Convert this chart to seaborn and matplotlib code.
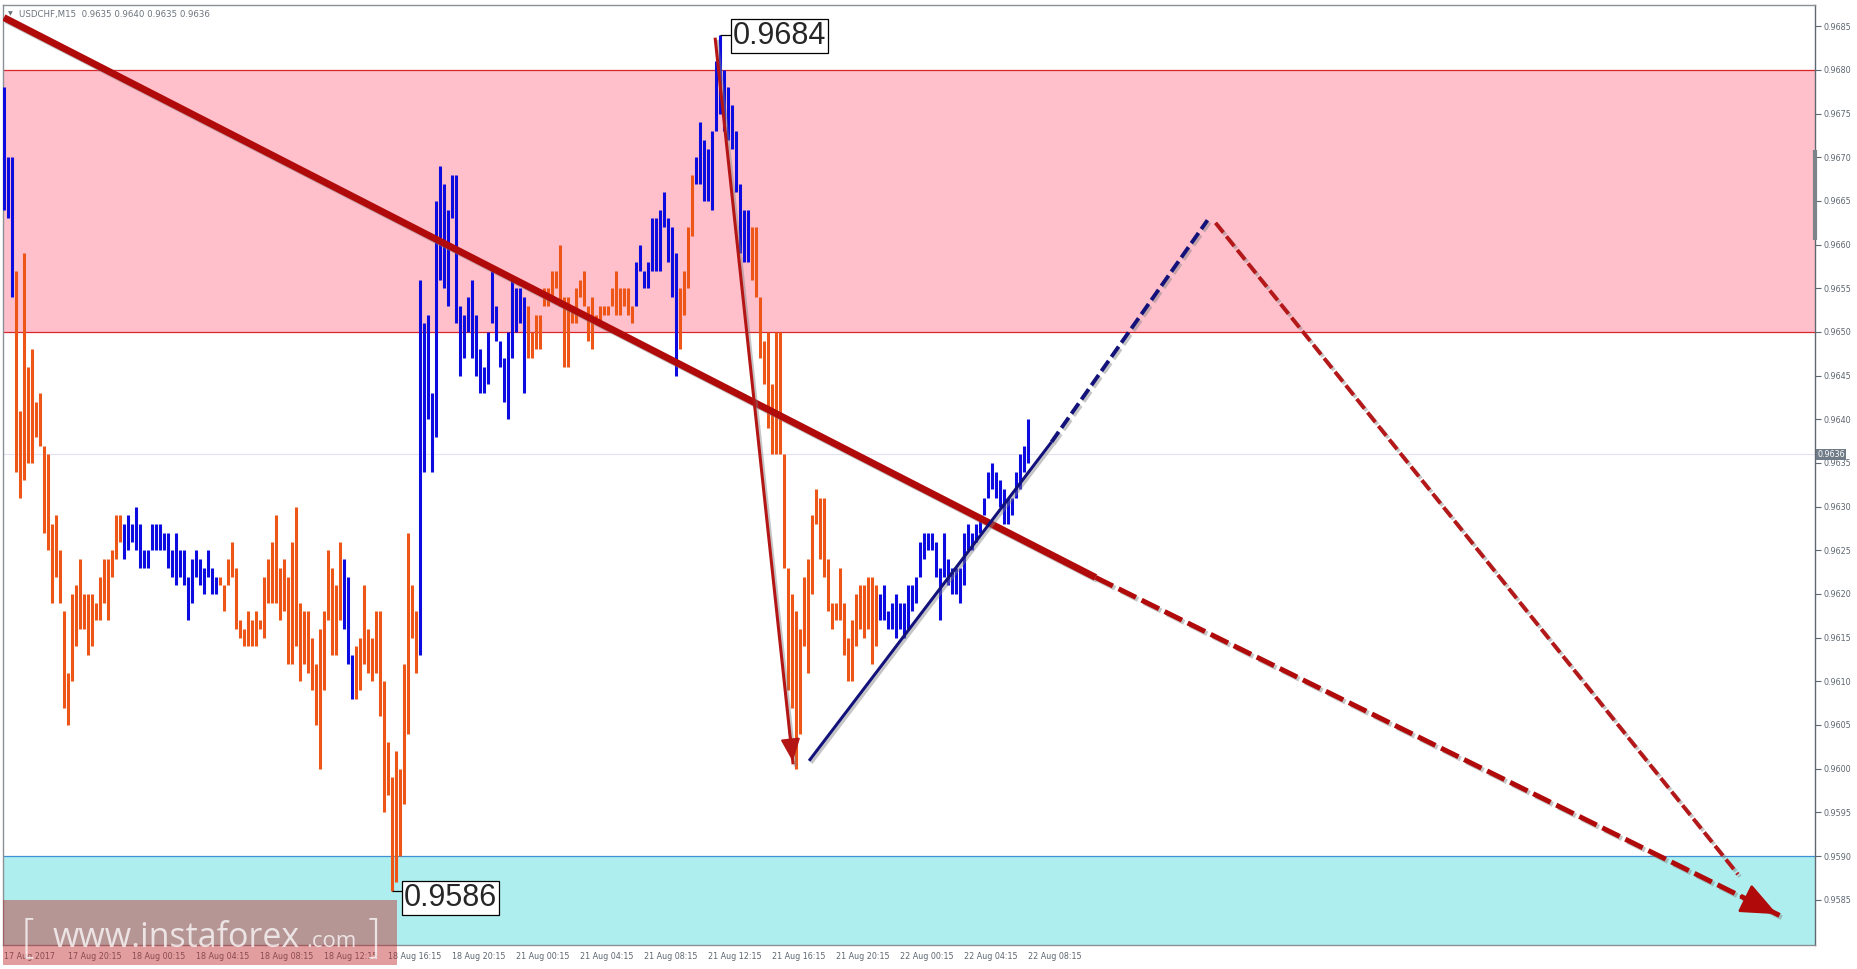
import numpy as np
import pandas as pd
import seaborn as sns
import matplotlib
matplotlib.use('Agg')
import matplotlib.pyplot as plt
import matplotlib.patheffects as pe
import matplotlib.transforms as mtransforms
from matplotlib.patches import Rectangle

# USDCHF M15, 17 Aug 16:15 .. 22 Aug 08:15 (bar index 0..256)
highs = [
    0.9678, 0.9670, 0.9670, 0.9657, 0.9641, 0.9659, 0.9646, 0.9648, 0.9642, 0.9643,
    0.9637, 0.9636, 0.9628, 0.9629, 0.9625, 0.9618, 0.9611, 0.9620, 0.9621, 0.9624,
    0.9620, 0.9620, 0.9620, 0.9619, 0.9622, 0.9624, 0.9624, 0.9625, 0.9629, 0.9629,
    0.9628, 0.9629, 0.9628, 0.9630, 0.9628, 0.9625, 0.9625, 0.9628, 0.9628, 0.9628,
    0.9627, 0.9627, 0.9625, 0.9627, 0.9625, 0.9625, 0.9622, 0.9624, 0.9625, 0.9624,
    0.9623, 0.9625, 0.9623, 0.9622, 0.9622, 0.9621, 0.9624, 0.9626, 0.9623, 0.9617,
    0.9616, 0.9618, 0.9617, 0.9618, 0.9617, 0.9622, 0.9624, 0.9626, 0.9629, 0.9623,
    0.9624, 0.9622, 0.9626, 0.9630, 0.9619, 0.9618, 0.9618, 0.9615, 0.9612, 0.9616,
    0.9618, 0.9625, 0.9623, 0.9621, 0.9626, 0.9624, 0.9622, 0.9613, 0.9614, 0.9615,
    0.9621, 0.9616, 0.9615, 0.9618, 0.9618, 0.9610, 0.9603, 0.9599, 0.9602, 0.9600,
    0.9612, 0.9627, 0.9621, 0.9618, 0.9656, 0.9651, 0.9652, 0.9643, 0.9665, 0.9669,
    0.9667, 0.9664, 0.9668, 0.9668, 0.9653, 0.9652, 0.9654, 0.9656, 0.9652, 0.9648,
    0.9646, 0.9650, 0.9657, 0.9653, 0.9649, 0.9647, 0.9650, 0.9656, 0.9655, 0.9655,
    0.9654, 0.9653, 0.9650, 0.9652, 0.9652, 0.9655, 0.9655, 0.9657, 0.9657, 0.9660,
    0.9654, 0.9654, 0.9653, 0.9655, 0.9656, 0.9657, 0.9653, 0.9654, 0.9652, 0.9653,
    0.9653, 0.9653, 0.9655, 0.9657, 0.9655, 0.9655, 0.9655, 0.9653, 0.9658, 0.9660,
    0.9657, 0.9658, 0.9663, 0.9663, 0.9664, 0.9666, 0.9663, 0.9662, 0.9659, 0.9655,
    0.9657, 0.9662, 0.9668, 0.9670, 0.9674, 0.9672, 0.9671, 0.9673, 0.9681, 0.9684,
    0.9680, 0.9678, 0.9676, 0.9673, 0.9667, 0.9664, 0.9664, 0.9662, 0.9662, 0.9654,
    0.9649, 0.9650, 0.9644, 0.9650, 0.9650, 0.9636, 0.9623, 0.9620, 0.9618, 0.9616,
    0.9622, 0.9624, 0.9629, 0.9632, 0.9631, 0.9631, 0.9624, 0.9619, 0.9619, 0.9623,
    0.9619, 0.9615, 0.9617, 0.9620, 0.9621, 0.9621, 0.9622, 0.9622, 0.9621, 0.9620,
    0.9621, 0.9618, 0.9619, 0.9620, 0.9619, 0.9619, 0.9621, 0.9621, 0.9622, 0.9626,
    0.9627, 0.9627, 0.9627, 0.9626, 0.9623, 0.9627, 0.9624, 0.9623, 0.9623, 0.9623,
    0.9627, 0.9628, 0.9627, 0.9628, 0.9629, 0.9631, 0.9634, 0.9635, 0.9634, 0.9633,
    0.9632, 0.9631, 0.9631, 0.9634, 0.9636, 0.9637, 0.9640,
]
lows = [
    0.9664, 0.9663, 0.9654, 0.9634, 0.9631, 0.9633, 0.9635, 0.9635, 0.9638, 0.9637,
    0.9627, 0.9625, 0.9619, 0.9622, 0.9619, 0.9607, 0.9605, 0.9610, 0.9614, 0.9616,
    0.9616, 0.9613, 0.9614, 0.9617, 0.9617, 0.9619, 0.9617, 0.9622, 0.9624, 0.9626,
    0.9624, 0.9625, 0.9626, 0.9625, 0.9623, 0.9623, 0.9623, 0.9625, 0.9625, 0.9625,
    0.9625, 0.9623, 0.9622, 0.9621, 0.9622, 0.9621, 0.9617, 0.9619, 0.9622, 0.9621,
    0.9620, 0.9622, 0.9620, 0.9620, 0.9621, 0.9618, 0.9621, 0.9622, 0.9616, 0.9615,
    0.9614, 0.9614, 0.9614, 0.9614, 0.9616, 0.9615, 0.9619, 0.9619, 0.9619, 0.9617,
    0.9618, 0.9612, 0.9612, 0.9614, 0.9610, 0.9612, 0.9611, 0.9609, 0.9605, 0.9600,
    0.9609, 0.9617, 0.9613, 0.9613, 0.9617, 0.9616, 0.9612, 0.9608, 0.9608, 0.9609,
    0.9612, 0.9611, 0.9610, 0.9611, 0.9606, 0.9595, 0.9597, 0.9586, 0.9587, 0.9590,
    0.9596, 0.9604, 0.9615, 0.9611, 0.9613, 0.9634, 0.9640, 0.9634, 0.9638, 0.9656,
    0.9655, 0.9653, 0.9663, 0.9651, 0.9645, 0.9647, 0.9650, 0.9647, 0.9645, 0.9643,
    0.9643, 0.9644, 0.9651, 0.9649, 0.9646, 0.9642, 0.9640, 0.9647, 0.9650, 0.9651,
    0.9643, 0.9647, 0.9647, 0.9648, 0.9648, 0.9653, 0.9653, 0.9654, 0.9655, 0.9653,
    0.9646, 0.9646, 0.9651, 0.9651, 0.9654, 0.9653, 0.9649, 0.9648, 0.9651, 0.9651,
    0.9652, 0.9652, 0.9653, 0.9652, 0.9652, 0.9653, 0.9652, 0.9651, 0.9653, 0.9657,
    0.9655, 0.9655, 0.9657, 0.9657, 0.9657, 0.9662, 0.9658, 0.9654, 0.9645, 0.9648,
    0.9652, 0.9655, 0.9661, 0.9667, 0.9667, 0.9665, 0.9665, 0.9664, 0.9673, 0.9675,
    0.9673, 0.9672, 0.9671, 0.9666, 0.9659, 0.9658, 0.9658, 0.9656, 0.9654, 0.9647,
    0.9644, 0.9639, 0.9636, 0.9636, 0.9636, 0.9623, 0.9609, 0.9607, 0.9600, 0.9604,
    0.9614, 0.9611, 0.9620, 0.9628, 0.9624, 0.9622, 0.9618, 0.9616, 0.9617, 0.9617,
    0.9613, 0.9610, 0.9610, 0.9614, 0.9616, 0.9615, 0.9616, 0.9612, 0.9614, 0.9617,
    0.9617, 0.9616, 0.9616, 0.9615, 0.9616, 0.9615, 0.9616, 0.9618, 0.9619, 0.9622,
    0.9624, 0.9625, 0.9625, 0.9622, 0.9617, 0.9622, 0.9621, 0.9620, 0.9620, 0.9619,
    0.9621, 0.9625, 0.9625, 0.9626, 0.9627, 0.9629, 0.9631, 0.9632, 0.9631, 0.9630,
    0.9628, 0.9628, 0.9629, 0.9631, 0.9632, 0.9634, 0.9635,
]
# u = bull bar (blue), d = bear bar (orange)
dirs = ("uuu" + "d" * 27 + "u" * 24 + "d" * 31 + "uuu" + "d" * 16 + "u" * 27
        + "d" * 27 + "u" * 11 + "dddd" + "u" * 14 + "d" * 32 + "u" * 38)

time_labels = ["17 Aug 2017", "17 Aug 20:15", "18 Aug 00:15", "18 Aug 04:15",
               "18 Aug 08:15", "18 Aug 12:15", "18 Aug 16:15", "18 Aug 20:15",
               "21 Aug 00:15", "21 Aug 04:15", "21 Aug 08:15", "21 Aug 12:15",
               "21 Aug 16:15", "21 Aug 20:15", "22 Aug 00:15", "22 Aug 04:15",
               "22 Aug 08:15"]
price_ticks = [0.9585, 0.9590, 0.9595, 0.9600, 0.9605, 0.9610, 0.9615, 0.9620,
               0.9625, 0.9630, 0.9635, 0.9640, 0.9645, 0.9650, 0.9655, 0.9660,
               0.9665, 0.9670, 0.9675, 0.9680, 0.9685]
resist_zone = [0.9650, 0.9680]
support_top = 0.9590
last_price = 0.9636
header = "USDCHF,M15  0.9635 0.9640 0.9635 0.9636"

# analyst drawings (bar index, price)
trend_x = [0.1, 273.0, 444.0]
trend_y = [0.96860, 0.96219, 0.95832]
drop_x = [177.9, 197.4]
drop_y = [0.96837, 0.96005]
up_x = [201.4, 262.0, 301.0]
up_y = [0.96009, 0.96374, 0.96628]
down_x = [303.0, 433.6]
down_y = [0.96625, 0.95879]

BLUE = '#0c0ce0'
ORANGE = '#ee5618'
DARKRED = '#b00a0a'
NAVY = '#12127a'
GRAY = '#6b737c'

sns.set_style('white')
plt.rcParams['font.family'] = ['DejaVu Sans']
plt.rcParams['lines.solid_capstyle'] = 'butt'
plt.rcParams['lines.dash_capstyle'] = 'butt'
plt.rcParams['lines.scale_dashes'] = False

W, H = 1857, 969
fig = plt.figure(figsize=(W / 100, H / 100), dpi=100)
ax = fig.add_axes([3 / W, 24 / H, 1812 / W, 940 / H])
ax.set_xlim(-0.125, 452.875)
ax.set_ylim(0.957981, 0.968744)

# zones
ax.axhspan(resist_zone[0], resist_zone[1], color='#ffc0cb', lw=0, zorder=0)
ax.axhline(resist_zone[0], color='#d8262a', lw=0.9, zorder=1)
ax.axhline(resist_zone[1], color='#d8262a', lw=0.9, zorder=1)
ax.axhspan(0.957, support_top, color='#afeeee', lw=0, zorder=0)
ax.axhline(support_top, color='#3d8fd6', lw=0.9, zorder=1)
ax.axhline(last_price, color='#e2e2f4', lw=0.8, zorder=1)

# price bars
n = len(highs)
df = pd.DataFrame({
    'bar': np.repeat(np.arange(n), 2),
    'price': np.column_stack([lows, highs]).ravel(),
    'dir': np.repeat(list(dirs[:n]), 2),
})
sns.lineplot(data=df, x='bar', y='price', units='bar', estimator=None,
             hue='dir', palette={'u': BLUE, 'd': ORANGE}, lw=2.2,
             legend=False, sort=False, ax=ax, zorder=3)

shadow = [pe.SimpleLineShadow(offset=(1.6, -1.6), shadow_color='#808080', alpha=0.45), pe.Normal()]

# main trend line
ax.plot(trend_x[:2], trend_y[:2], color=DARKRED, lw=5.0, zorder=5, path_effects=shadow)
ax.plot(trend_x[1:], trend_y[1:], color=DARKRED, lw=3.6, dashes=(14, 4.5), zorder=5, path_effects=shadow)
tx = trend_x[2] - 0.06 * (trend_x[2] - trend_x[1])
ty = trend_y[2] - 0.06 * (trend_y[2] - trend_y[1])
ax.annotate('', xy=(trend_x[2], trend_y[2]), xytext=(tx, ty),
            arrowprops=dict(arrowstyle='-|>,head_length=0.75,head_width=0.32',
                            color=DARKRED, lw=2, mutation_scale=30), zorder=6)

# impulse drop arrow
ax.plot(drop_x, drop_y, color='#b41616', lw=2.2, zorder=5, path_effects=shadow)
dx = drop_x[1] - 0.05 * (drop_x[1] - drop_x[0])
dy = drop_y[1] - 0.05 * (drop_y[1] - drop_y[0])
ax.annotate('', xy=(drop_x[1], drop_y[1]), xytext=(dx, dy),
            arrowprops=dict(arrowstyle='-|>,head_length=0.7,head_width=0.3',
                            color='#b41616', lw=1.5, mutation_scale=20), zorder=6)

# forecast lines
ax.plot(up_x[:2], up_y[:2], color=NAVY, lw=2.2, zorder=5, path_effects=shadow)
ax.plot(up_x[1:], up_y[1:], color=NAVY, lw=2.8, dashes=(9, 3.5), zorder=5, path_effects=shadow)
ax.plot(down_x, down_y, color='#b41818', lw=2.8, dashes=(9, 3.5), zorder=5, path_effects=shadow)

# extreme labels
peak_i = int(np.argmax(highs))
trough_i = int(np.argmin(lows))
box = dict(boxstyle='square,pad=0.06', fc='white', ec='black', lw=0.9)
ax.plot([peak_i, peak_i + 3.2], [highs[peak_i]] * 2, color='black', lw=0.9, zorder=7)
ax.text(peak_i + 3.3, highs[peak_i] - 0.00001, f'{highs[peak_i]:.4f}', family='Liberation Sans',
        fontsize=22, va='center', ha='left', bbox=box, zorder=8)
ax.plot([trough_i, trough_i + 3.0], [lows[trough_i]] * 2, color='black', lw=0.9, zorder=7)
ax.text(trough_i + 3.1, lows[trough_i] - 0.00008, f'{lows[trough_i]:.4f}', family='Liberation Sans',
        fontsize=22, va='center', ha='left', bbox=box, zorder=8)

# axes styling
for s in ['left', 'top', 'bottom']:
    ax.spines[s].set_color('#8a9096')
    ax.spines[s].set_linewidth(1)
ax.spines['right'].set_color('#5f6870')
ax.spines['right'].set_linewidth(1)
ax.set_xlabel('')
ax.set_ylabel('')
ax.yaxis.tick_right()
ax.set_yticks(price_ticks)
ax.set_yticklabels([f'{p:.4f}' for p in price_ticks])
ax.tick_params(axis='y', direction='out', length=4, width=0.8, color='#5f6870',
               labelsize=5.8, labelcolor='#5d6670', pad=2)
ax.set_xticks(np.arange(0, 16 * len(time_labels), 16))
ax.set_xticklabels(time_labels)
ax.tick_params(axis='x', direction='out', length=3, width=0.8, color='#5f6870',
               labelsize=5.8, labelcolor='#5d6670', pad=2)
for lbl in ax.get_xticklabels():
    lbl.set_ha('left')

blend = mtransforms.blended_transform_factory(ax.transAxes, ax.transData)
ax.plot([1, 1], [0.96708, 0.96605], transform=blend, color='#7b838b', lw=3, clip_on=False, zorder=9)
ax.annotate(f'{last_price:.4f}', xy=(1, last_price), xycoords=blend, xytext=(1.5, 0),
            textcoords='offset points', ha='left', va='center', fontsize=5.8, color='white',
            bbox=dict(boxstyle='square,pad=0.12', fc='#6f7b86', ec='none'), zorder=10)

# header
fig.text(8 / W, 1 - 14 / H, '\u25bc', fontsize=4.5, color=GRAY, va='center')
fig.text(19 / W, 1 - 14 / H, header, fontsize=6.2, color=GRAY, va='center')

# watermark
fig.add_artist(Rectangle((3 / W, 4 / H), 394 / W, 65 / H, transform=fig.transFigure,
                         facecolor=(0.75, 0.16, 0.16), alpha=0.45, lw=0, zorder=20))
wm = (1, 1, 1, 0.75)
fig.text(20 / W, 1 - 952 / H, '[', fontsize=34, color=wm, va='baseline', family='DejaVu Sans',
         fontweight='light', zorder=21)
fig.text(53 / W, 1 - 947 / H, 'www.instaforex', fontsize=24.5, color=wm, va='baseline',
         family='Open Sans', zorder=21)
fig.text(306 / W, 1 - 947 / H, '.com', fontsize=16, color=wm, va='baseline',
         family='Open Sans', zorder=21)
fig.text(364 / W, 1 - 952 / H, ']', fontsize=34, color=wm, va='baseline', family='DejaVu Sans',
         fontweight='light', zorder=21)

fig.savefig('out.png', dpi=100)
